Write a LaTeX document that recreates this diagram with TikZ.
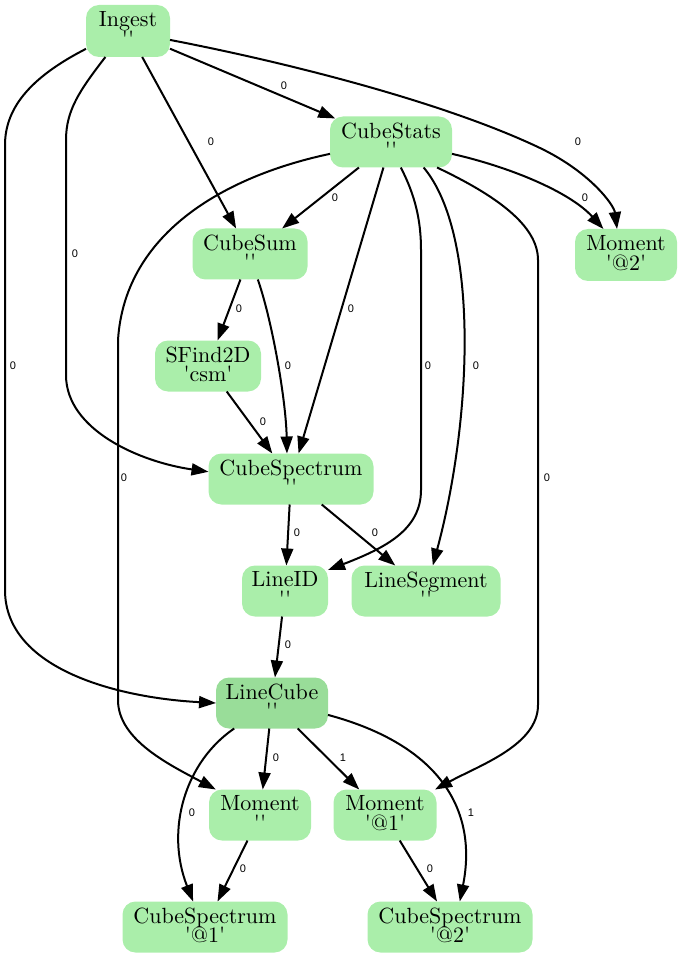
\documentclass[tikz,border=0pt]{standalone}
\usepackage{fontspec}
\newfontfamily\lblfont{Liberation Sans}
\newfontfamily\boxfam{lmroman10-regular}[Extension=.otf]
\usetikzlibrary{arrows.meta}
\definecolor{nodefill}{RGB}{170,238,170}
\definecolor{nodedark}{RGB}{153,221,153}
\newcommand{\tqs}{\textquotesingle}
\newcommand{\boxfont}{\boxfam\fontsize{22}{19.5}\selectfont\lineskiplimit=-20pt\relax\lineskip=0pt\relax}
\newcommand{\ndtext}[2]{#1\\#2\rule[-4pt]{0pt}{4pt}}
\begin{document}
\begin{tikzpicture}[x=1pt,y=-1pt,
  box/.style={draw=none, fill=nodefill, rounded corners=13pt, inner sep=0pt, outer sep=0pt,
    minimum height=51pt, align=center, font=\boxfont},
  edge/.style={line width=2pt, -{Triangle[length=17pt,width=12pt]}},
  lbl/.style={font=\lblfont\fontsize{11}{11}\selectfont, inner sep=0pt}]
\useasboundingbox (0,0) rectangle (683,957);
% nodes
\node[box, minimum width=84pt, minimum height=52pt] (ingest) at (128,31) {\ndtext{Ingest}{\tqs\tqs}};
\node[box, minimum width=122pt] (cstats) at (391,142) {\ndtext{CubeStats}{\tqs\tqs}};
\node[box, minimum width=102pt, minimum height=52pt] (m2) at (626,255) {\ndtext{Moment}{\tqs @2\tqs}};
\node[box, minimum width=115pt] (csum) at (250,254) {\ndtext{CubeSum}{\tqs\tqs}};
\node[box, minimum width=106pt] (sfind) at (208,366) {\ndtext{SFind2D}{\tqs csm\tqs}};
\node[box, minimum width=165pt] (cs) at (291,479) {\ndtext{CubeSpectrum}{\tqs\tqs}};
\node[box, minimum width=86pt] (lineid) at (285,591) {\ndtext{LineID}{\tqs\tqs}};
\node[box, minimum width=149pt] (lseg) at (426,591) {\ndtext{LineSegment}{\tqs\tqs}};
\node[box, fill=nodedark, minimum width=112pt] (lc) at (272,703) {\ndtext{LineCube}{\tqs\tqs}};
\node[box, minimum width=102pt] (mom) at (260,815) {\ndtext{Moment}{\tqs\tqs}};
\node[box, minimum width=103pt] (m1) at (385,815) {\ndtext{Moment}{\tqs @1\tqs}};
\node[box, minimum width=165pt] (cs1) at (205,927) {\ndtext{CubeSpectrum}{\tqs @1\tqs}};
\node[box, minimum width=165pt] (cs2) at (450,927) {\ndtext{CubeSpectrum}{\tqs @2\tqs}};
% edges from Ingest
\draw[edge, shorten >=-5pt] (ingest) -- (cstats) node[lbl] at (284,86) {0};
\draw[edge] (ingest) -- (csum) node[lbl] at (211,142) {0};
\draw[edge] (ingest.-12) .. controls (300,65) and (450,105) .. (540,148)
  .. controls (590,172) and (614,205) .. (m2.109) node[lbl] at (578,142) {0};
\draw[edge] (ingest.229) .. controls (80,90) and (66,110) .. (66,140) -- (66,375)
  .. controls (66,430) and (140,462) .. (cs.175) node[lbl] at (75,254) {0};
\draw[edge] (ingest.203) .. controls (35,75) and (5,105) .. (5,145) -- (5,590)
  .. controls (5,670) and (120,698) .. (lc.west) node[lbl] at (13,366) {0};
% edges from CubeStats
\draw[edge] (cstats) -- (csum) node[lbl] at (335,198) {0};
\draw[edge] (cstats.-11) .. controls (510,167) and (570,192) .. (m2.131.5) node[lbl] at (585,198) {0};
\draw[edge] (cstats) -- (cs) node[lbl] at (351,309) {0};
\draw[edge] (cstats.-69) .. controls (415,195) and (421,220) .. (421,250) -- (421,490)
  .. controls (421,530) and (385,548) .. (lineid.26) node[lbl] at (428,366) {0};
\draw[edge] (cstats.-38) .. controls (480,235) and (472,420) .. (lseg.75) node[lbl] at (476,366) {0};
\draw[edge] (cstats.-29) .. controls (495,195) and (538,225) .. (538,260) -- (538,705)
  .. controls (538,745) and (480,765) .. (m1.27.5) node[lbl] at (547,478) {0};
\draw[edge] (cstats.191) .. controls (230,175) and (125,230) .. (118,340) -- (118,700)
  .. controls (118,740) and (170,765) .. (mom.150) node[lbl] at (124,478) {0};
% middle edges
\draw[edge] (csum) -- (sfind) node[lbl] at (239,309) {0};
\draw[edge] (csum.-73) .. controls (272,320) and (286,400) .. (cs.99) node[lbl] at (288,366) {0};
\draw[edge] (sfind) -- (cs) node[lbl] at (263,422) {0};
\draw[edge] (cs) -- (lineid) node[lbl] at (297,533) {0};
\draw[edge] (cs) -- (lseg) node[lbl] at (375,533) {0};
\draw[edge] (lineid) -- (lc) node[lbl] at (288,645) {0};
% edges from LineCube
\draw[edge] (lc) -- (mom) node[lbl] at (276,758) {0};
\draw[edge] (lc) -- (m1) node[lbl] at (343,758) {1};
\draw[edge] (lc.214) .. controls (185,762) and (165,830) .. (cs1.115) node[lbl] at (192,813) {0};
\draw[edge] (lc.-12) .. controls (440,745) and (478,810) .. (cs2.69) node[lbl] at (471,813) {1};
% bottom edges
\draw[edge] (mom) -- (cs1) node[lbl] at (243,869) {0};
\draw[edge] (m1.-60) -- (cs2.117) node[lbl] at (430,869) {0};
\end{tikzpicture}
\end{document}
